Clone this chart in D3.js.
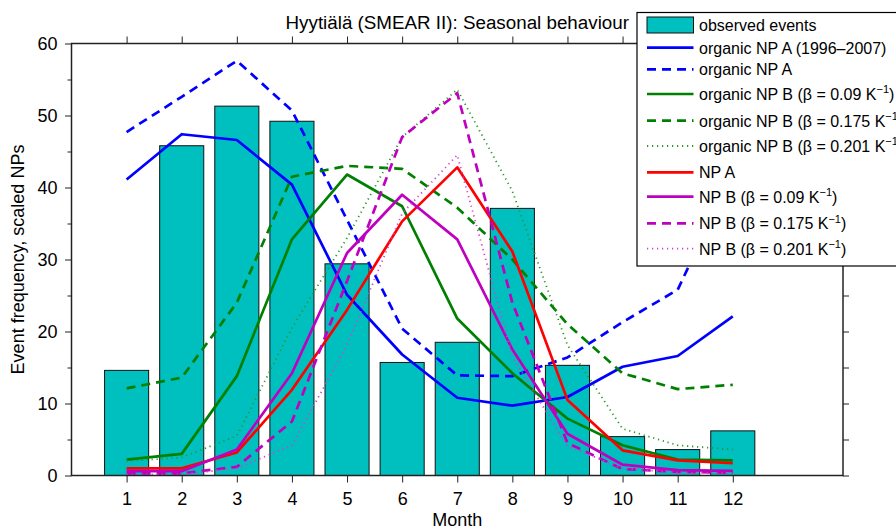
<!DOCTYPE html>
<html>
<head>
<meta charset="utf-8">
<script src="https://cdn.jsdelivr.net/npm/d3@7"></script>
<style>
  html, body { margin: 0; padding: 0; background: #fff; }
  svg { display: block; }
  text { font-family: "Liberation Sans", Arial, Helvetica, sans-serif; fill: #000; }
</style>
</head>
<body>
<svg id="chart" width="896" height="529"></svg>
<script>
// ---- data ----
const months = [1, 2, 3, 4, 5, 6, 7, 8, 9, 10, 11, 12];
const observed = [14.6, 45.8, 51.3, 49.2, 29.4, 15.7, 18.5, 37.1, 15.3, 5.4, 3.6, 6.2];
const orgA_9607 = [41.1, 47.4, 46.6, 40.4, 25.1, 16.8, 10.8, 9.7, 10.9, 15.1, 16.6, 22.1];
const orgA = [47.7, 52.6, 57.6, 50.7, 35.5, 20.4, 13.9, 13.8, 16.4, 21.3, 25.8, 42.0];
const orgB_009 = [2.2, 3.0, 13.8, 32.8, 41.8, 37.4, 21.8, 14.2, 7.9, 4.2, 2.2, 2.1];
const orgB_0175 = [12.1, 13.6, 24.0, 41.5, 43.0, 42.6, 37.2, 30.0, 21.0, 14.2, 12.0, 12.6];
const orgB_0201 = [2.0, 2.5, 5.5, 20.5, 33.0, 47.0, 53.6, 39.5, 18.1, 6.5, 4.2, 3.6];
const npA = [1.0, 1.0, 3.2, 11.9, 23.0, 35.3, 42.8, 31.1, 10.5, 3.5, 2.1, 1.7];
const npB_009 = [0.6, 0.6, 3.6, 14.2, 30.9, 39.0, 32.8, 17.5, 5.8, 1.5, 0.75, 0.65];
const npB_0175 = [0.3, 0.3, 1.2, 7.5, 27.0, 47.0, 53.1, 24.0, 4.5, 0.9, 0.5, 0.4];
const npB_0201 = [0.15, 0.15, 1.0, 4.2, 18.1, 36.4, 44.5, 16.5, 4.1, 1.0, 0.4, 0.3];
const yMajorTicks = [0, 10, 20, 30, 40, 50, 60];
const yMinorTicks = [5, 15, 25, 35, 45, 55];
const titleText = "Hyytiälä (SMEAR II): Seasonal behaviour";
const xLabel = "Month";
const yLabel = "Event frequency, scaled NPs";

const series = [
  { name: "organic NP A (1996\u20132007)", values: orgA_9607, color: "#0000ff", dash: null, width: 2.7 },
  { name: "organic NP A", values: orgA, color: "#0000ff", dash: "9,6", width: 2.7 },
  { name: "organic NP B (\u03b2 = 0.09 K", sup: "\u22121", values: orgB_009, color: "#008000", dash: null, width: 2.7 },
  { name: "organic NP B (\u03b2 = 0.175 K", sup: "\u22121", values: orgB_0175, color: "#008000", dash: "9,6", width: 2.7 },
  { name: "organic NP B (\u03b2 = 0.201 K", sup: "\u22121", values: orgB_0201, color: "#2a962a", dash: "1.2,3.8", width: 1.8 },
  { name: "NP A", values: npA, color: "#ff0000", dash: null, width: 2.7 },
  { name: "NP B (\u03b2 = 0.09 K", sup: "\u22121", values: npB_009, color: "#bf00bf", dash: null, width: 2.7 },
  { name: "NP B (\u03b2 = 0.175 K", sup: "\u22121", values: npB_0175, color: "#bf00bf", dash: "9,6", width: 2.7 },
  { name: "NP B (\u03b2 = 0.201 K", sup: "\u22121", values: npB_0201, color: "#d040d0", dash: "1.2,3.8", width: 1.8 }
];

// ---- layout ----
const svg = d3.select("#chart");
const x = d3.scaleLinear().domain([0, 14]).range([71.5, 843]);
const y = d3.scaleLinear().domain([0, 60]).range([475.5, 43.5]);
const barW = x(0.8) - x(0);

// bars
svg.append("g").selectAll("rect").data(months).join("rect")
  .attr("x", (d) => x(d) - barW / 2)
  .attr("y", (d, i) => y(observed[i]))
  .attr("width", barW)
  .attr("height", (d, i) => y(0) - y(observed[i]))
  .attr("fill", "#00bfbf")
  .attr("stroke", "#111")
  .attr("stroke-width", 1);

// lines
const line = d3.line().x((d, i) => x(months[i])).y((d) => y(d));
series.forEach((s) => {
  svg.append("path")
    .attr("d", line(s.values))
    .attr("fill", "none")
    .attr("stroke", s.color)
    .attr("stroke-width", s.width)
    .attr("stroke-dasharray", s.dash)
    .attr("stroke-linejoin", "round");
});

// axes
function styleAxis(g) {
  g.select(".domain").remove();
  g.selectAll("line").attr("stroke", "#222").attr("stroke-width", 1);
  g.selectAll("text").attr("font-size", 18).attr("font-family", "Liberation Sans, Arial, sans-serif");
}
svg.append("g").attr("transform", `translate(0,${y(0)})`)
  .call(d3.axisBottom(x).tickValues(months).tickSize(7).tickPadding(9.7).tickFormat(d3.format("d")))
  .call(styleAxis);
svg.append("g").attr("transform", `translate(0,${y(60)})`)
  .call(d3.axisTop(x).tickValues(months).tickSize(7).tickFormat(""))
  .call(styleAxis);
svg.append("g").attr("transform", `translate(${x(0)},0)`)
  .call(d3.axisLeft(y).tickValues(yMajorTicks).tickSize(6.5).tickPadding(7.5))
  .call(styleAxis);
svg.append("g").attr("transform", `translate(${x(0)},0)`)
  .call(d3.axisLeft(y).tickValues(yMinorTicks).tickSize(4).tickFormat(""))
  .call(styleAxis);
svg.append("g").attr("transform", `translate(${x(14)},0)`)
  .call(d3.axisRight(y).tickValues(yMajorTicks.concat(yMinorTicks)).tickSize(6).tickFormat(""))
  .call(styleAxis);
// axes box
svg.append("rect")
  .attr("x", x(0)).attr("y", y(60))
  .attr("width", x(14) - x(0)).attr("height", y(0) - y(60))
  .attr("fill", "none").attr("stroke", "#222").attr("stroke-width", 1.5);

// title and labels
svg.append("text").attr("x", (x(0) + x(14)) / 2).attr("y", 29)
  .attr("text-anchor", "middle").attr("font-size", 18.8).text(titleText);
svg.append("text").attr("x", (x(0) + x(14)) / 2).attr("y", 526)
  .attr("text-anchor", "middle").attr("font-size", 18).text(xLabel);
svg.append("text").attr("transform", `translate(24,${(y(0) + y(60)) / 2}) rotate(-90)`)
  .attr("text-anchor", "middle").attr("font-size", 18).text(yLabel);

// legend
const lg = svg.append("g");
lg.append("rect").attr("x", 637).attr("y", 12.5).attr("width", 280).attr("height", 253.5)
  .attr("fill", "#fff").attr("stroke", "#000").attr("stroke-width", 1.2);
const rowY = [25, 47.7, 69.3, 94, 120.7, 146, 172.3, 196.7, 223.3, 248.7];
const sx0 = 647, sx1 = 693.5, tx = 699;
lg.append("rect").attr("x", sx0).attr("y", rowY[0] - 8).attr("width", sx1 - sx0).attr("height", 16)
  .attr("fill", "#00bfbf").attr("stroke", "#111");
lg.append("text").attr("x", tx).attr("y", rowY[0] + 5.8).attr("font-size", 16).text("observed events");
series.forEach((s, i) => {
  const yy = rowY[i + 1];
  lg.append("line").attr("x1", sx0).attr("x2", sx1).attr("y1", yy).attr("y2", yy)
    .attr("stroke", s.color).attr("stroke-width", s.width).attr("stroke-dasharray", s.dash);
  const t = lg.append("text").attr("x", tx).attr("y", yy + 5.8).attr("font-size", 16);
  t.append("tspan").text(s.name);
  if (s.sup) {
    t.append("tspan").attr("dy", -6.5).attr("font-size", 11).text(s.sup);
    t.append("tspan").attr("dy", 6.5).text(")");
  }
});
</script>
</body>
</html>
